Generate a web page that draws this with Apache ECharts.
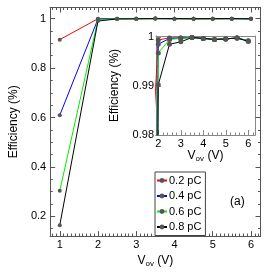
<!DOCTYPE html>
<html><head><meta charset="utf-8">
<script src="https://cdn.jsdelivr.net/npm/echarts@6/dist/echarts.min.js"></script>
<style>html,body{margin:0;padding:0;background:#fff}#c{width:264px;height:273px}</style>
</head><body><div id="c"></div>
<script>
// ---- data ----
const vov = [1, 2, 2.5, 3, 3.5, 4, 4.5, 5, 5.5, 6];
const seriesNames = ['0.2 pC', '0.4 pC', '0.6 pC', '0.8 pC'];
const eff02 = [0.915, 0.9995, 0.9999, 0.9999, 1.0, 0.9998, 0.9996, 0.9997, 0.9999, 0.9993];
const eff04 = [0.609, 0.9986, 0.9998, 0.9999, 1.0, 0.9998, 0.9996, 0.9997, 0.9999, 0.9993];
const eff06 = [0.303, 0.9968, 0.9996, 0.9998, 1.0, 0.9998, 0.9996, 0.9997, 0.9999, 0.9993];
const eff08 = [0.164, 0.9903, 0.9986, 0.9991, 1.0, 0.9998, 0.9996, 0.9997, 0.9999, 0.9992];
const lineColors = ['#ff0000', '#0000ff', '#00ee00', '#000000'];

// tick labels
const mainXTicks = [1, 2, 3, 4, 5, 6];
const mainYTicks = [0.2, 0.4, 0.6, 0.8, 1];
const insetXTicks = [2, 3, 4, 5, 6];
const insetYTicks = [0.98, 0.99, 1];

function steps(a, b, s) { const r = []; for (let v = a; v <= b + 1e-9; v += s) r.push(+v.toFixed(5)); return r; }
const mainXMinor = steps(0.8, 6.2, 0.1);
const mainYMinor = steps(0.15, 1.0, 0.05);
const insetXMinor = steps(2.0, 6.2, 0.2);
const insetYMinor = steps(0.98, 1.0, 0.002);

const effs = [eff02, eff04, eff06, eff08];
const FONT = 'Liberation Sans, Arial, sans-serif';
const MAIN_C = '#555';
const INS_C = '#888';

function axisBase(gi, min, max, pos, color) {
  return { type: 'value', gridIndex: gi, min: min, max: max, position: pos,
    splitLine: { show: false },
    axisLine: { show: true, onZero: false, lineStyle: { color: color, width: 1 } } };
}
function majorAx(gi, min, max, pos, color, ticks, showLabel, extra) {
  const a = axisBase(gi, min, max, pos, color);
  a.axisTick = { show: true, inside: true, length: 5, customValues: ticks, lineStyle: { color: color } };
  a.axisLabel = { show: showLabel, customValues: ticks, color: '#000', fontSize: 11, fontFamily: FONT, margin: 4 };
  return Object.assign(a, extra || {});
}
function minorAx(gi, min, max, pos, color, ticks) {
  const a = axisBase(gi, min, max, pos, color);
  a.axisTick = { show: true, inside: true, length: 2.5, customValues: ticks, lineStyle: { color: color } };
  a.axisLabel = { show: false };
  return a;
}
const vovName = 'V{s|ov} (V)';
const nameStyle = { fontSize: 12, fontFamily: FONT, color: '#000', rich: { s: { fontSize: 8, fontFamily: FONT, verticalAlign: 'bottom', padding: [6, 0, 0, 0] } } };

const xAxis = [
  majorAx(0, 0.75, 6.25, 'bottom', MAIN_C, mainXTicks, true, { name: vovName, nameLocation: 'middle', nameGap: 10, nameTextStyle: nameStyle }),
  minorAx(0, 0.75, 6.25, 'bottom', MAIN_C, mainXMinor),
  majorAx(0, 0.75, 6.25, 'top', MAIN_C, mainXTicks, false),
  minorAx(0, 0.75, 6.25, 'top', MAIN_C, mainXMinor),
  majorAx(1, 1.9, 6.3, 'bottom', INS_C, insetXTicks, true, { name: vovName, nameLocation: 'middle', nameGap: 10, nameTextStyle: nameStyle }),
  minorAx(1, 1.9, 6.3, 'bottom', INS_C, insetXMinor),
  Object.assign(axisBase(1, 1.9, 6.3, 'top', INS_C), { axisTick: { show: false }, axisLabel: { show: false } })
];
xAxis[0].axisLabel.margin = 3;
xAxis[4].axisLabel.margin = 3;
const yAxis = [
  majorAx(0, 0.12, 1.045, 'left', MAIN_C, mainYTicks, true, { name: 'Efficiency (%)', nameLocation: 'middle', nameGap: 23, nameTextStyle: { fontSize: 12, fontFamily: FONT, color: '#000' } }),
  minorAx(0, 0.12, 1.045, 'left', MAIN_C, mainYMinor),
  majorAx(0, 0.12, 1.045, 'right', MAIN_C, mainYTicks, false),
  minorAx(0, 0.12, 1.045, 'right', MAIN_C, mainYMinor),
  majorAx(1, 0.98, 1.0003, 'left', INS_C, insetYTicks, true, { name: 'Efficiency (%)', nameLocation: 'middle', nameGap: 35, nameTextStyle: { fontSize: 12, fontFamily: FONT, color: '#000' } }),
  minorAx(1, 0.98, 1.0003, 'left', INS_C, insetYMinor),
  Object.assign(axisBase(1, 0.98, 1.0003, 'right', INS_C), { axisTick: { show: false }, axisLabel: { show: false } })
];
yAxis[0].axisLabel.formatter = v => String(+v.toFixed(2));
yAxis[4].axisLabel.margin = 2;
yAxis[4].axisLabel.formatter = v => String(+v.toFixed(2));

const series = [];
effs.forEach((arr, i) => {
  const pts = vov.map((x, k) => [x, arr[k]]);
  series.push({ name: seriesNames[i], type: 'line', xAxisIndex: 0, yAxisIndex: 0, data: pts,
    symbol: 'circle', symbolSize: 4, showSymbol: true, z: 2 + i,
    lineStyle: { color: lineColors[i], width: 1 }, itemStyle: { color: '#555' } });
});
effs.forEach((arr, i) => {
  const pts = vov.map((x, k) => [x, arr[k]]);
  series.push({ name: seriesNames[i], type: 'line', xAxisIndex: 4, yAxisIndex: 4, data: pts, clip: true,
    symbol: 'circle', symbolSize: 5, showSymbol: true, z: 2 + i,
    lineStyle: { color: lineColors[i], width: 1 }, itemStyle: { color: '#555' } });
});

const chart = echarts.init(document.getElementById('c'), null, { renderer: 'canvas' });
chart.setOption({
  animation: false,
  backgroundColor: '#fff',
  grid: [
    { left: 37, right: 3.5, top: 7.5, bottom: 30, containLabel: false },
    { left: 156, right: 9, top: 36, bottom: 138, containLabel: false, show: true, backgroundColor: '#fff', borderWidth: 0 }
  ],
  xAxis: xAxis, yAxis: yAxis, series: series,
  legend: { data: seriesNames, orient: 'vertical', left: 155, top: 172, itemWidth: 10, itemHeight: 6, itemGap: 4.5,
    padding: [3, 4, 3, 1], borderColor: '#444', borderWidth: 1, backgroundColor: '#fff',
    textStyle: { fontSize: 11, fontFamily: FONT, color: '#000', padding: [0, 0, 0, -3] } },
  graphic: [{ type: 'text', left: 230, top: 196, style: { text: '(a)', fontSize: 12, fontFamily: FONT, fill: '#000' } }]
});
</script></body></html>
